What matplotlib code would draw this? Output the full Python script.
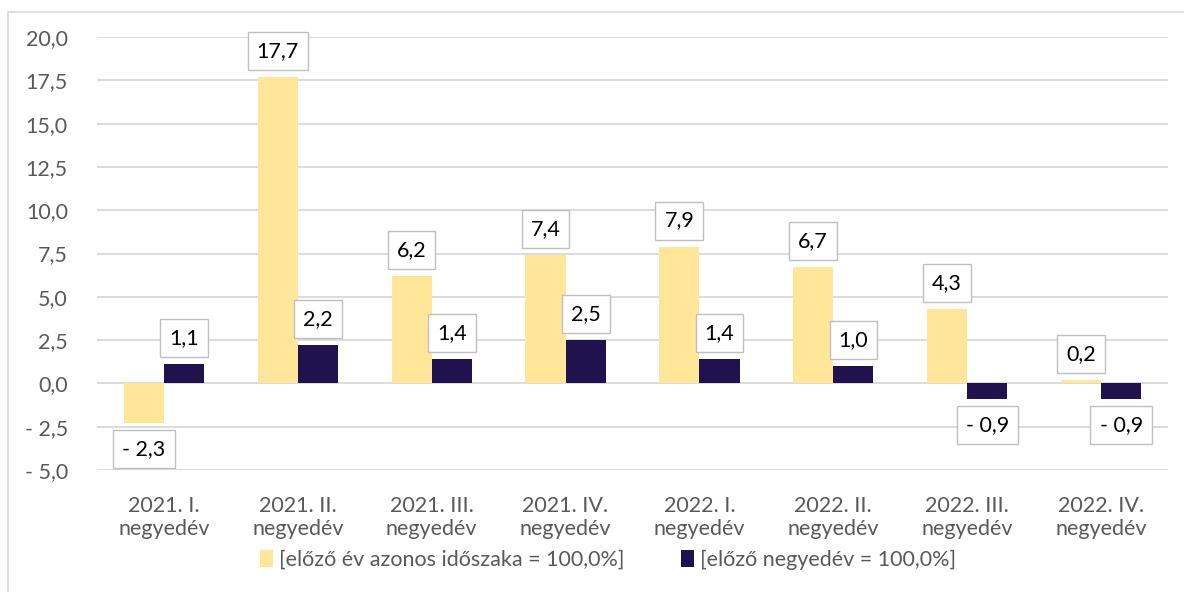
import matplotlib
matplotlib.use("Agg")
import matplotlib.pyplot as plt
import numpy as np
from matplotlib.patches import Rectangle

categories = ["2021. I.\nnegyedév", "2021. II.\nnegyedév", "2021. III.\nnegyedév", "2021. IV.\nnegyedév",
              "2022. I.\nnegyedév", "2022. II.\nnegyedév", "2022. III.\nnegyedév", "2022. IV.\nnegyedév"]
yoy = [-2.3, 17.7, 6.2, 7.4, 7.9, 6.7, 4.3, 0.2]
qoq = [1.1, 2.2, 1.4, 2.5, 1.4, 1.0, -0.9, -0.9]
series_names = ["[előző év azonos időszaka = 100,0%]", "[előző negyedév = 100,0%]"]
yticks = [-5.0, -2.5, 0.0, 2.5, 5.0, 7.5, 10.0, 12.5, 15.0, 17.5, 20.0]

plt.rcParams['font.family'] = ['Lato', 'DejaVu Sans']

def fmt(v):
    s = f"{abs(v):.1f}".replace(".", ",")
    return ("- " + s) if v < 0 else s

FS = 15.5
fig = plt.figure(figsize=(11.84, 5.92), dpi=100)
ax = fig.add_axes([97/1184, 1-470/592, 1071/1184, 433/592])

x = np.arange(len(categories))
w = 0.3
b1 = ax.bar(x - w/2, yoy, w, color="#FFE699", label=series_names[0], zorder=2)
b2 = ax.bar(x + w/2, qoq, w, color="#20124D", label=series_names[1], zorder=2)

ax.set_xlim(-0.5, len(categories)-0.5)
ax.set_ylim(-5, 20)
ax.set_yticks(yticks)
ax.set_yticklabels([fmt(t) for t in yticks], color="#595959", fontsize=FS)
ax.set_xticks(x)
ax.set_xticklabels(categories, color="#595959", fontsize=FS, linespacing=1.15)
ax.tick_params(length=0)
ax.tick_params(axis='y', pad=21)
ax.tick_params(axis='x', pad=19)
for s in ax.spines.values():
    s.set_visible(False)
ax.grid(axis='y', color="#D9D9D9", linewidth=1.3, zorder=0)

px_per_unit = 433/25
off = 26/px_per_unit
for xs, vals in ((x - w/2, yoy), (x + w/2, qoq)):
    for xi, v in zip(xs, vals):
        yy = v + off if v >= 0 else v - off
        ax.text(xi, yy, fmt(v), ha='center', va='center', fontsize=FS, color="black", zorder=4,
                bbox=dict(boxstyle="square,pad=0.42", facecolor="white", edgecolor="#BFBFBF", linewidth=1))

leg = fig.legend(handles=[b1, b2], loc='center', bbox_to_anchor=(608/1184, 1-560/592), ncol=2, frameon=False,
                 fontsize=FS, handlelength=0.6, handleheight=0.8, columnspacing=2.6, handletextpad=0.3,
                 borderaxespad=0, borderpad=0)
for t in leg.get_texts():
    t.set_color("#595959")

fig.patches.append(Rectangle((8/1184, -0.1), 1.2, 1-12/592+0.1, transform=fig.transFigure,
                             fill=False, edgecolor="#D9D9D9", linewidth=1.2))

fig.savefig("out.png", dpi=100)
